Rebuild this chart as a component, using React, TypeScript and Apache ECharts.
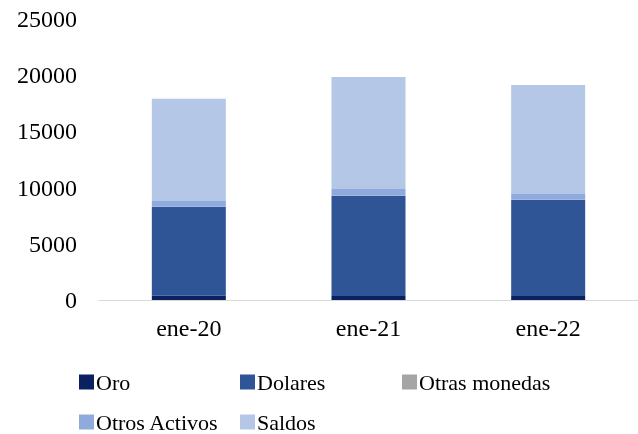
import React, { useEffect, useRef } from "react";
import * as echarts from "echarts";

const categories = ["ene-20", "ene-21", "ene-22"];
const oro = [380, 350, 350];
const dolares = [7890, 8900, 8550];
const otrasMonedas = [30, 30, 30];
const otrosActivos = [500, 600, 500];
const saldos = [9100, 9965, 9700];

const seriesNames = ["Oro", "Dolares", "Otras monedas", "Otros Activos", "Saldos"];
const seriesData = [oro, dolares, otrasMonedas, otrosActivos, saldos];
const colors = ["#0b2060", "#2f5597", "#a5a5a5", "#8faadc", "#b4c7e7"];

const FONT = '"Liberation Serif", "Times New Roman", serif';

export default function App() {
  const ref = useRef<HTMLDivElement>(null);
  useEffect(() => {
    if (!ref.current) return;
    const chart = echarts.init(ref.current, undefined, { renderer: "svg" });
    const legendPos = [
      { left: 79, top: 371 },
      { left: 240, top: 371 },
      { left: 402, top: 371 },
      { left: 79, top: 411 },
      { left: 240, top: 411 },
    ];
    chart.setOption({
      animation: false,
      color: colors,
      textStyle: { fontFamily: FONT },
      grid: { left: 99, right: 0, top: 19, bottom: 134, containLabel: false },
      legend: seriesNames.map((n, i) => ({
        data: [n],
        left: legendPos[i].left,
        top: legendPos[i].top,
        itemWidth: 15,
        itemHeight: 15,
        icon: "rect",
        padding: 0,
        textStyle: { fontFamily: FONT, fontSize: 22, color: "#000", padding: [0, 0, 0, -3] },
      })),
      xAxis: {
        type: "category",
        data: categories,
        axisLine: { lineStyle: { color: "#d9d9d9", width: 1 } },
        axisTick: { show: false },
        axisLabel: { fontFamily: FONT, fontSize: 24, color: "#000", margin: 16 },
      },
      yAxis: {
        type: "value",
        min: 0,
        max: 25000,
        interval: 5000,
        splitLine: { show: false },
        axisLine: { show: false },
        axisTick: { show: false },
        axisLabel: {
          fontFamily: FONT,
          fontSize: 24,
          color: "#000",
          margin: 22,
          formatter: (v: number) => String(v),
        },
      },
      series: seriesNames.map((n, i) => ({
        name: n,
        type: "bar",
        stack: "total",
        barWidth: 74,
        data: seriesData[i],
        itemStyle: { color: colors[i] },
      })),
    });
    return () => chart.dispose();
  }, []);
  return (
    <div
      ref={ref}
      style={{ position: "fixed", left: 0, top: 0, width: 638, height: 434 }}
    />
  );
}
